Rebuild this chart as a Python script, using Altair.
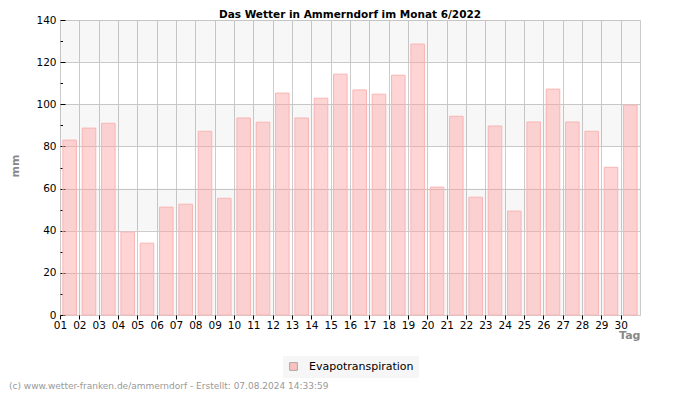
import altair as alt
import pandas as pd

days = ["01", "02", "03", "04", "05", "06", "07", "08", "09", "10",
        "11", "12", "13", "14", "15", "16", "17", "18", "19", "20",
        "21", "22", "23", "24", "25", "26", "27", "28", "29", "30"]
evapo = [83.0, 88.7, 91.0, 39.4, 34.1, 51.2, 52.6, 87.2, 55.4, 93.5,
         91.5, 105.3, 93.5, 102.9, 114.3, 106.8, 104.8, 113.8, 128.6, 60.7,
         94.3, 55.9, 89.7, 49.3, 91.6, 107.2, 91.6, 87.2, 70.1, 99.6]
series_name = "Evapotranspiration"
title_text = "Das Wetter in Ammerndorf im Monat 6/2022"
footer_text = "(c) www.wetter-franken.de/ammerndorf - Erstellt: 07.08.2024 14:33:59"
y_major = [0, 20, 40, 60, 80, 100, 120, 140]
y_all = [0, 10, 20, 30, 40, 50, 60, 70, 80, 90, 100, 110, 120, 130, 140]
band_starts = [0, 40, 80, 120]
band_ends = [20, 60, 100, 140]

W, H = 580, 295

df = pd.DataFrame({"idx": list(range(len(days))), "day": days,
                   "value": evapo, "series": [series_name] * len(days)})
bands_df = pd.DataFrame({"y0": band_starts, "y1": band_ends})
foot_df = pd.DataFrame({"t": [footer_text]})
title_df = pd.DataFrame({"t": [title_text]})

label_expr = "[" + ",".join("'%s'" % d for d in days) + "][datum.value]"

x_scale = alt.Scale(domain=[0, len(days)], nice=False, zero=False)
y_scale = alt.Scale(domain=[0, 140], nice=False)

bands = alt.Chart(bands_df).mark_rect(fill="#000000", fillOpacity=0.03).encode(
    x=alt.value(0), x2=alt.value(W),
    y=alt.Y("y0:Q", scale=y_scale,
            axis=alt.Axis(orient="right", offset=-W, values=y_all, labels=False,
                          grid=False, domain=False, title=None, ticks=True,
                          tickColor="#000000", tickWidth=1,
                          tickSize={"condition": {"test": "datum.value % 20 === 0", "value": 5},
                                    "value": 2.5})),
    y2="y1:Q",
)

bars = alt.Chart(df).transform_calculate(
    x0="datum.idx + 0.15", x1="datum.idx + 0.85", base="0"
).mark_rect(fillOpacity=0.45, stroke="#f9b5b5", strokeWidth=1).encode(
    x=alt.X("x0:Q", scale=x_scale,
            axis=alt.Axis(values=list(range(len(days))), labelExpr=label_expr,
                          grid=True, gridColor="#cccccc", domain=False,
                          tickColor="#000000", tickSize=4, labelPadding=1,
                          labelAlign="center", labelFlush=False,
                          title="Tag", titleColor="#888888", titleFontWeight="bold",
                          titleFontSize=11, titleAlign="right", titleBaseline="alphabetic",
                          titleX=W, titleY=23, titleFont="DejaVu Sans")),
    x2="x1:Q",
    y=alt.Y("value:Q", scale=y_scale,
            axis=alt.Axis(values=y_major, grid=True, gridColor="#cccccc",
                          ticks=False, domain=False, labelPadding=4,
                          title="mm", titleColor="#888888", titleFontWeight="bold",
                          titleFontSize=11, titleX=-45, titleY=H / 2 - 2,
                          titleAlign="center", titleBaseline="middle", titleAngle=270,
                          titleFont="DejaVu Sans")),
    y2="base:Q",
    color=alt.Color("series:N", scale=alt.Scale(range=["#ff9f9f"]),
                    legend=alt.Legend(title=None, orient="none", legendX=223, legendY=336,
                                      fillColor="#f6f6f6", padding=5,
                                      symbolType="square", symbolSize=60,
                                      symbolStrokeColor="#7f6f6f", symbolStrokeWidth=1,
                                      symbolOpacity=0.6,
                                      labelFontSize=11, labelOffset=10,
                                      labelFont="DejaVu Sans", labelColor="#000000")),
)

title = alt.Chart(title_df).mark_text(
    align="center", baseline="alphabetic", fontSize=10.5, fontWeight="bold",
    color="#000000", font="DejaVu Sans"
).encode(x=alt.value(W / 2), y=alt.value(-2.5), text="t:N")

footer = alt.Chart(foot_df).mark_text(
    align="left", baseline="middle", fontSize=9, color="#999999", font="DejaVu Sans"
).encode(x=alt.value(-51), y=alt.value(366), text="t:N")

chart = alt.layer(bands, bars, title, footer).resolve_axis(y="independent").properties(
    width=W, height=H,
    padding={"left": 52, "top": 12, "right": 52, "bottom": 77},
    autosize="none",
).configure_view(stroke="#cccccc").configure_axis(
    labelFont="DejaVu Sans", labelFontSize=10.5, labelColor="#000000"
)

chart.save("out.html", embed_options={"renderer": "svg", "actions": False})
